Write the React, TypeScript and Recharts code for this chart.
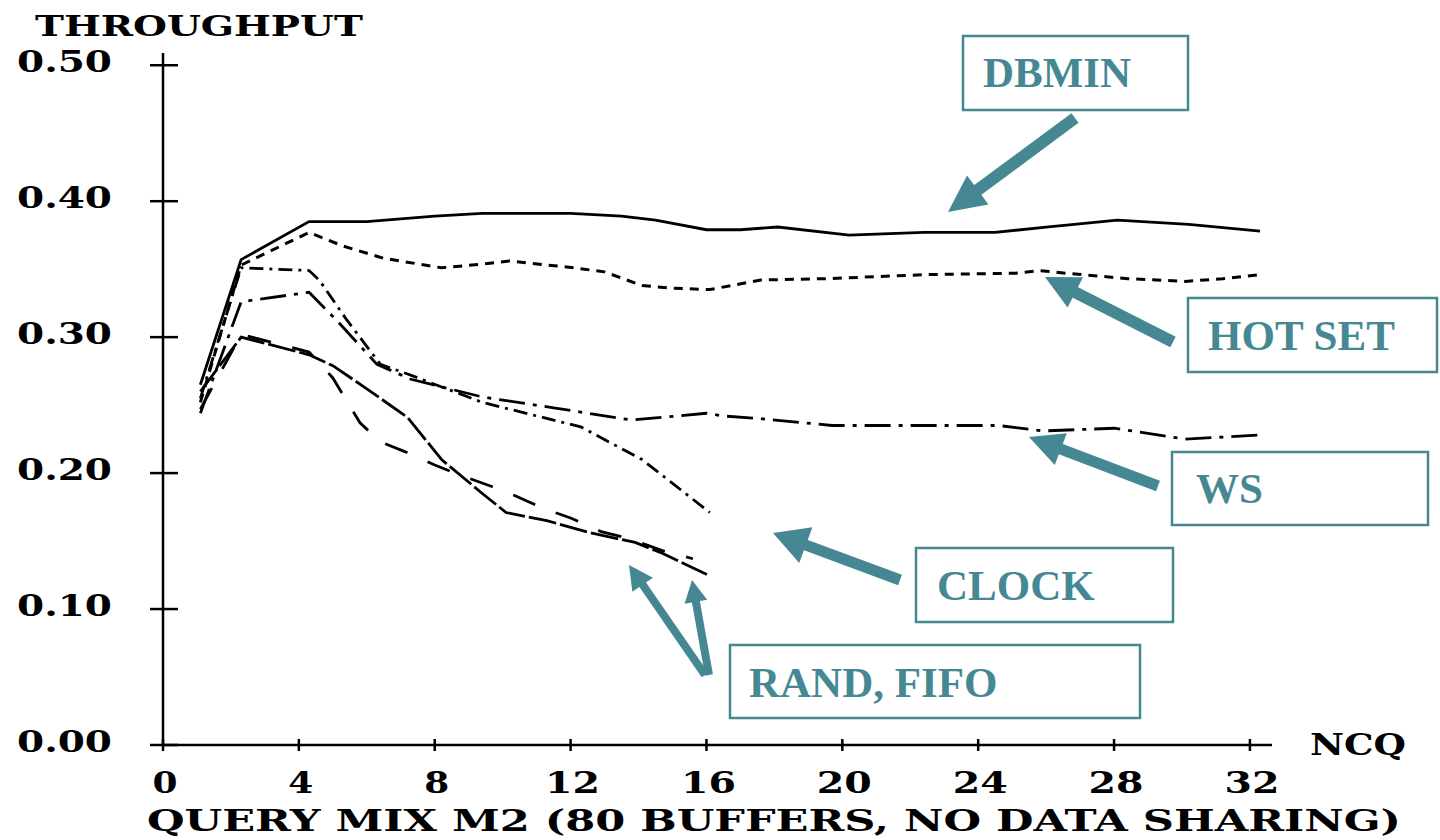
import React from 'react';
import { LineChart, Line, XAxis, YAxis } from 'recharts';

// ---- data (NCQ, throughput) ----
const X_TICKS = [0, 4, 8, 12, 16, 20, 24, 28, 32];
const Y_TICKS = [0, 0.1, 0.2, 0.3, 0.4, 0.5];
const Y_TICK_LABELS = ['0.00', '0.10', '0.20', '0.30', '0.40', '0.50'];

const DBMIN: [number, number][] = [
  [1.1, 0.265], [2.3, 0.357], [4.3, 0.385], [6, 0.385], [7, 0.387], [8, 0.389], [9.4, 0.391],
  [12, 0.391], [13.5, 0.389], [14.5, 0.386], [16, 0.379], [17, 0.379], [18.1, 0.381],
  [20.2, 0.375], [22.4, 0.377], [24.5, 0.377], [26, 0.381], [28.1, 0.386], [30.2, 0.383], [32.3, 0.378],
];
const HOT_SET: [number, number][] = [
  [1.1, 0.252], [2.3, 0.353], [4.3, 0.377], [5.3, 0.367], [6.5, 0.358], [8.2, 0.351], [9.5, 0.354],
  [10.2, 0.356], [12.1, 0.351], [13, 0.348], [14.1, 0.338], [15, 0.336], [16.1, 0.335], [17.6, 0.342],
  [19.5, 0.343], [22.5, 0.346], [25.1, 0.347], [25.8, 0.349], [26.6, 0.347], [28.4, 0.343],
  [30.1, 0.341], [31.2, 0.343], [32.3, 0.346],
];
const WS: [number, number][] = [
  [1.1, 0.244], [2.3, 0.326], [4.3, 0.333], [5.2, 0.31], [6.3, 0.28], [7.3, 0.269], [9.4, 0.256],
  [11.5, 0.248], [13.8, 0.239], [16, 0.244], [16.5, 0.242], [17.6, 0.24], [19.7, 0.235], [24.6, 0.235],
  [25.9, 0.231], [28, 0.233], [30.1, 0.225], [32.3, 0.228],
];
const CLOCK: [number, number][] = [
  [1.1, 0.255], [2.3, 0.351], [4.3, 0.349], [4.6, 0.342], [5.4, 0.313], [6.4, 0.28], [7.3, 0.272],
  [9.4, 0.252], [12.3, 0.234], [14.1, 0.21], [16.1, 0.171],
];
const RAND: [number, number][] = [
  [1.1, 0.26], [2.3, 0.3], [4.3, 0.287], [5, 0.279], [6, 0.262], [7.2, 0.241], [8.2, 0.21],
  [9.4, 0.185], [10.1, 0.171], [11.3, 0.165], [12.6, 0.156], [13.9, 0.149], [14.7, 0.141], [16.05, 0.125],
];
const FIFO: [number, number][] = [
  [1.1, 0.247], [2.3, 0.302], [4.3, 0.289], [5, 0.27], [5.8, 0.237], [6.4, 0.223], [7.1, 0.216],
  [8, 0.206], [8.7, 0.199], [9.7, 0.19], [10.4, 0.183], [11.2, 0.174], [12, 0.167], [12.9, 0.157],
  [13.7, 0.152], [14.7, 0.143], [15.6, 0.137],
];

const toData = (pts: [number, number][]) => pts.map(([n, v]) => ({ n, v }));

const TEAL = '#458894';
const AXIS_FONT = '"DejaVu Serif", serif';
const BOX_FONT = '"Liberation Serif", "Times New Roman", serif';

const YTick = (props: any) => {
  const { x, y, payload } = props;
  const idx = Y_TICKS.indexOf(payload.value);
  const label = idx >= 0 ? Y_TICK_LABELS[idx] : String(payload.value);
  return (
    <g>
      <line x1={x - 13} x2={x + 15} y1={y} y2={y} stroke="#000" strokeWidth={2.5} />
      <text
        x={17}
        y={y + 7}
        fontFamily={AXIS_FONT}
        fontWeight="bold"
        fontSize={29}
        fill="#000"
        textLength={95}
        lengthAdjust="spacingAndGlyphs"
      >
        {label}
      </text>
    </g>
  );
};

const XTick = (props: any) => {
  const { x, y, payload } = props;
  const label = String(payload.value);
  const w = label.length === 1 ? 25 : 55;
  return (
    <g>
      <line x1={x} x2={x} y1={y - 6} y2={y + 6} stroke="#000" strokeWidth={2.5} />
      <text
        x={x + 2 - w / 2}
        y={y + 48}
        fontFamily={AXIS_FONT}
        fontWeight="bold"
        fontSize={29}
        fill="#000"
        textLength={w}
        lengthAdjust="spacingAndGlyphs"
      >
        {label}
      </text>
    </g>
  );
};

function Arrow({ x1, y1, x2, y2, w, hw, hl }: { x1: number; y1: number; x2: number; y2: number; w: number; hw: number; hl: number }) {
  const dx = x2 - x1;
  const dy = y2 - y1;
  const len = Math.sqrt(dx * dx + dy * dy);
  const ux = dx / len;
  const uy = dy / len;
  const bx = x2 - ux * hl;
  const by = y2 - uy * hl;
  const px = -uy;
  const py = ux;
  const pts = `${x2},${y2} ${bx + (px * hw) / 2},${by + (py * hw) / 2} ${bx - (px * hw) / 2},${by - (py * hw) / 2}`;
  return (
    <g>
      <line x1={x1} y1={y1} x2={bx + ux * 2} y2={by + uy * 2} stroke={TEAL} strokeWidth={w} />
      <polygon points={pts} fill={TEAL} />
    </g>
  );
}

function Box({ x, y, w, h, label, tx, ty }: { x: number; y: number; w: number; h: number; label: string; tx: number; ty: number }) {
  return (
    <g>
      <rect x={x} y={y} width={w} height={h} fill="#fff" stroke={TEAL} strokeWidth={2.5} />
      <text x={tx} y={ty} fontFamily={BOX_FONT} fontWeight="bold" fontSize={43} fill={TEAL}>
        {label}
      </text>
    </g>
  );
}

export default function App() {
  return (
    <div style={{ position: 'absolute', left: 0, top: 0, width: 1440, height: 840, background: '#fff', overflow: 'hidden' }}>
      <LineChart width={1440} height={840} margin={{ top: 53, right: 168, bottom: 0, left: 0 }}>
        <XAxis
          dataKey="n"
          type="number"
          domain={[0, 32.65]}
          ticks={X_TICKS}
          interval={0}
          allowDataOverflow
          height={95}
          tickSize={0}
          tickMargin={0}
          tickLine={false}
          axisLine={{ stroke: '#000', strokeWidth: 2.5 }}
          tick={XTick}
        />
        <YAxis
          type="number"
          domain={[0, 0.509]}
          ticks={Y_TICKS}
          interval={0}
          allowDataOverflow
          width={163}
          tickSize={0}
          tickMargin={0}
          tickLine={false}
          axisLine={{ stroke: '#000', strokeWidth: 2.5 }}
          tick={YTick}
        />
        <Line data={toData(DBMIN)} dataKey="v" type="linear" stroke="#000" strokeWidth={2.8} dot={false} isAnimationActive={false} />
        <Line data={toData(HOT_SET)} dataKey="v" type="linear" stroke="#000" strokeWidth={3} strokeDasharray="9 7" dot={false} isAnimationActive={false} />
        <Line data={toData(WS)} dataKey="v" type="linear" stroke="#000" strokeWidth={2.8} strokeDasharray="26 8 4 8" dot={false} isAnimationActive={false} />
        <Line data={toData(CLOCK)} dataKey="v" type="linear" stroke="#000" strokeWidth={2.8} strokeDasharray="14 6 3 6" dot={false} isAnimationActive={false} />
        <Line data={toData(RAND)} dataKey="v" type="linear" stroke="#000" strokeWidth={2.8} strokeDasharray="28 4" dot={false} isAnimationActive={false} />
        <Line data={toData(FIFO)} dataKey="v" type="linear" stroke="#000" strokeWidth={2.8} strokeDasharray="24 22" dot={false} isAnimationActive={false} />
      </LineChart>
      <svg width={1440} height={840} style={{ position: 'absolute', left: 0, top: 0, pointerEvents: 'none' }}>
        <text x={35} y={36} fontFamily={AXIS_FONT} fontWeight="bold" fontSize={28} textLength={328} lengthAdjust="spacingAndGlyphs">
          THROUGHPUT
        </text>
        <text x={1310} y={755} fontFamily={AXIS_FONT} fontWeight="bold" fontSize={30} textLength={96} lengthAdjust="spacingAndGlyphs">
          NCQ
        </text>
        <text x={147} y={831} fontFamily={AXIS_FONT} fontWeight="bold" fontSize={29} textLength={1254} lengthAdjust="spacingAndGlyphs">
          QUERY MIX M2 (80 BUFFERS, NO DATA SHARING)
        </text>

        <Box x={963} y={36} w={225} h={74} label="DBMIN" tx={983} ty={87} />
        <Box x={1188} y={298} w={249} h={74} label="HOT SET" tx={1208} ty={350} />
        <Box x={1172} y={452} w={256} h={73} label="WS" tx={1196} ty={503} />
        <Box x={916} y={548} w={257} h={74} label="CLOCK" tx={937} ty={600} />
        <Box x={730} y={645} w={410} h={73} label="RAND, FIFO" tx={749} ty={697} />

        <Arrow x1={1075} y1={118} x2={948} y2={212} w={12} hw={36} hl={37} />
        <Arrow x1={1173} y1={342} x2={1045} y2={277} w={12} hw={34} hl={34} />
        <Arrow x1={1158} y1={486} x2={1029} y2={437} w={11} hw={34} hl={34} />
        <Arrow x1={900} y1={580} x2={773} y2={533} w={11} hw={38} hl={35} />
        <Arrow x1={705} y1={675} x2={629} y2={565} w={8} hw={25} hl={24} />
        <Arrow x1={709} y1={675} x2={692} y2={580} w={8} hw={23} hl={22} />
      </svg>
    </div>
  );
}
